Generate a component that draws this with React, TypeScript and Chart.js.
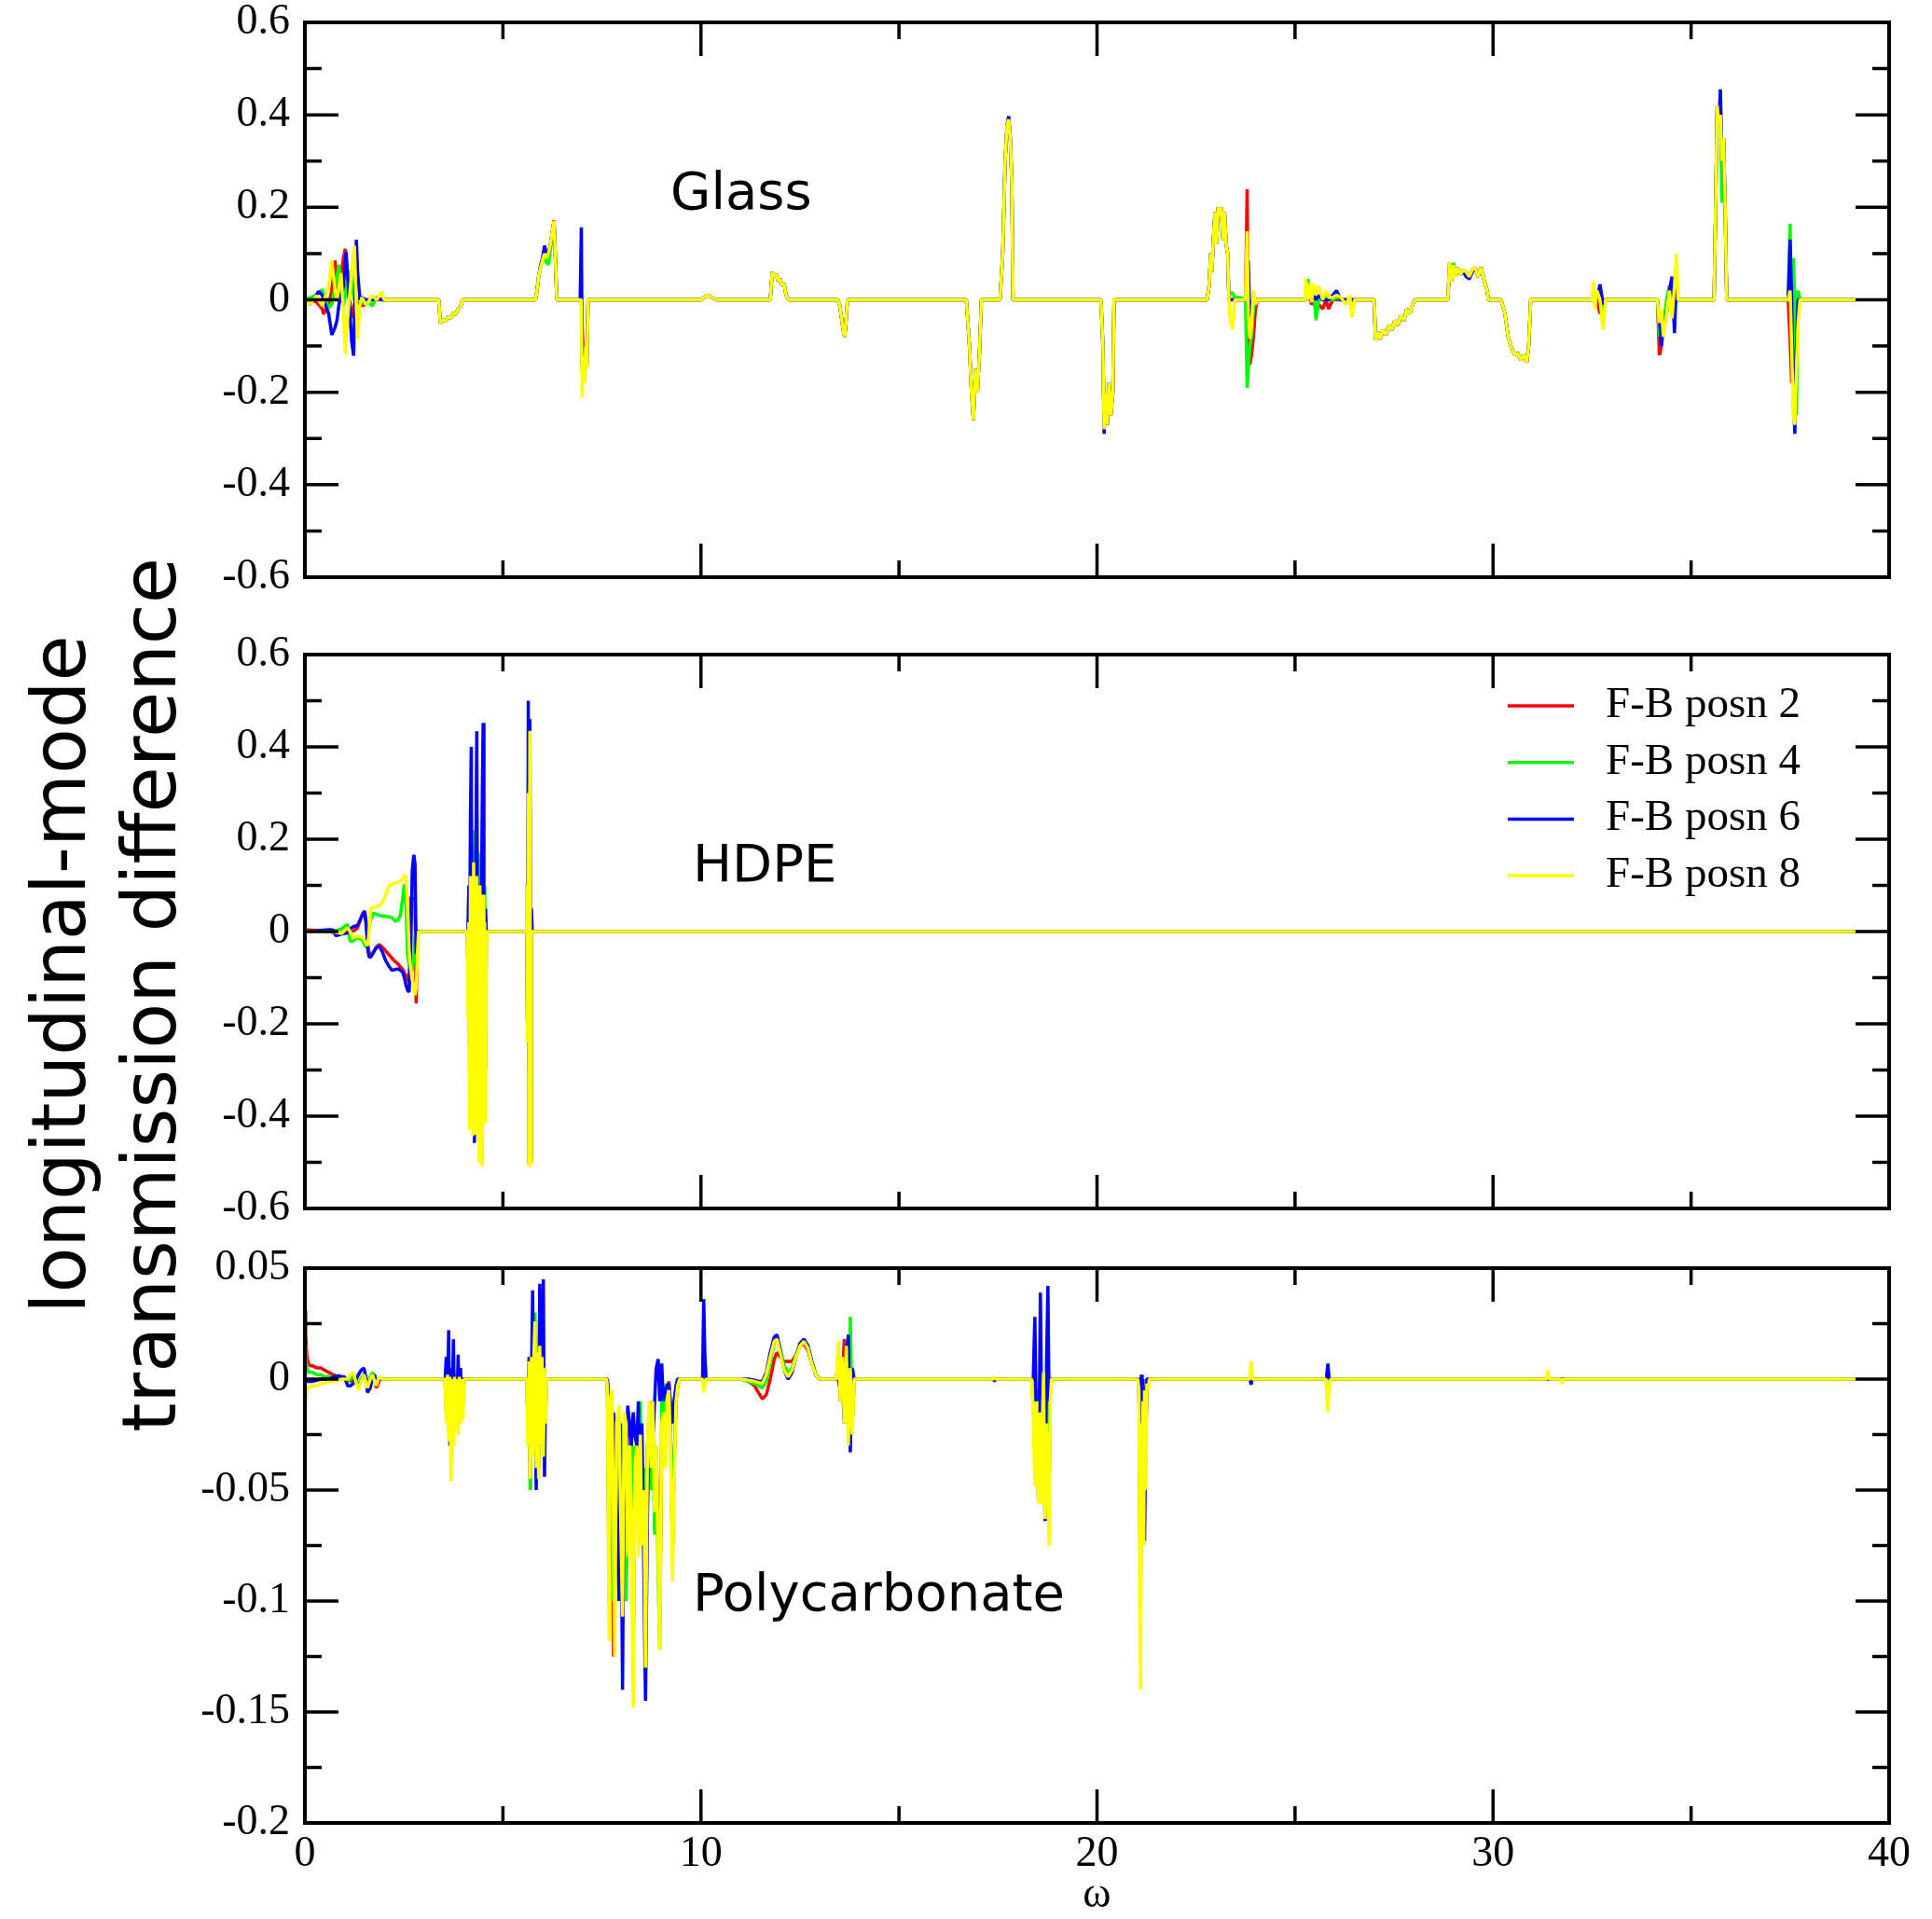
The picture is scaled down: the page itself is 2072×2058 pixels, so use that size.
import { useEffect, useRef } from "react";
import { Chart, registerables } from "chart.js";

Chart.register(...registerables);

const W = 2072;
const H = 2058;
const PLOT_LEFT = 327;
const PLOT_RIGHT = 2026;

const seriesNames = ["F-B posn 2", "F-B posn 4", "F-B posn 6", "F-B posn 8"];
const seriesColors = ["#ff0000", "#00ff00", "#0000ff", "#ffff00"];

// ---------------- Glass ----------------
const glassOmega = [
  0, 0.13, 0.29, 0.34, 0.44, 0.47, 0.6, 0.68, 0.76, 0.81, 0.86, 0.91, 0.97, 1.02, 1.04, 1.12, 1.16, 1.18, 1.23, 1.25, 1.3, 1.33, 1.39, 1.44, 1.54, 1.6, 1.7, 1.81, 1.94, 2.0,
  3.38, 3.42, 3.5, 3.55, 3.62, 3.68, 3.75, 3.8, 3.87, 3.93, 3.98,
  5.82, 5.86, 5.9, 5.95, 6.0, 6.05, 6.1, 6.15, 6.2, 6.25, 6.29, 6.32, 6.36,
  6.95, 6.98, 7.0, 7.03, 7.06, 7.09, 7.12, 7.15,
  10.0, 10.08, 10.17, 10.3, 10.4,
  11.75, 11.8, 11.85, 11.9, 11.95, 12.0, 12.05, 12.1, 12.15, 12.2,
  13.45, 13.5, 13.55, 13.6, 13.63, 13.66, 13.7,
  16.7, 16.78, 16.83, 16.88, 16.93, 16.98, 17.03, 17.08,
  17.55, 17.62, 17.68, 17.73, 17.77, 17.81, 17.85, 17.88,
  20.1, 20.15, 20.18, 20.22, 20.26, 20.3, 20.35, 20.4, 20.43,
  22.78, 22.83, 22.87, 22.9, 22.95, 22.98, 23.02, 23.06, 23.1, 23.14, 23.18, 23.22, 23.26, 23.3, 23.33, 23.36, 23.42, 23.48, 23.6, 23.75, 23.79, 23.82, 23.86, 23.9, 23.95, 24.0, 24.05,
  25.25, 25.27, 25.32, 25.36, 25.42, 25.47, 25.53, 25.6, 25.7, 25.78, 25.85, 25.95, 26.05, 26.15, 26.3, 26.38, 26.44, 26.5,
  27.0, 27.03, 27.1, 27.15, 27.22, 27.3, 27.38, 27.45, 27.52, 27.6, 27.67, 27.75, 27.82, 27.9, 27.97, 28.03,
  28.83, 28.86, 28.9, 28.95, 29.0, 29.05, 29.1, 29.18, 29.25, 29.32, 29.4, 29.48, 29.55, 29.62, 29.7, 29.78, 29.85, 29.88,
  30.2, 30.3, 30.38, 30.45, 30.55, 30.62, 30.7, 30.78, 30.85, 30.9, 30.95,
  32.5, 32.53, 32.57, 32.62, 32.7, 32.78, 32.84,
  34.15, 34.2, 34.25, 34.3, 34.38, 34.45, 34.52, 34.58, 34.63, 34.67,
  35.58, 35.62, 35.66, 35.7, 35.74, 35.78, 35.82, 35.86, 35.9,
  37.45, 37.5, 37.54, 37.58, 37.62, 37.66, 37.7, 37.75, 37.8,
  39.15,
];
const glassPosn2 = [
  0, 0, -0.005, -0.01, -0.02, -0.031, -0.01, 0.02, 0.085, 0.04, 0, 0.05, 0.09, 0.11, 0.08, 0, -0.02, -0.04, -0.02, -0.01, 0, -0.005, -0.01, -0.013, -0.01, 0, 0, 0, 0, 0,
  0, -0.05, -0.042, -0.047, -0.036, -0.04, -0.028, -0.032, -0.02, -0.015, 0,
  0, 0.02, 0.05, 0.07, 0.085, 0.1, 0.09, 0.1, 0.12, 0.15, 0.172, 0.1, 0,
  0, 0, -0.05, -0.12, -0.17, -0.1, -0.14, 0,
  0, 0.005, 0.01, 0.004, 0,
  0, 0.06, 0.05, 0.055, 0.04, 0.045, 0.03, 0.035, 0.01, 0,
  0, -0.01, -0.04, -0.07, -0.08, -0.05, 0,
  0, -0.1, -0.2, -0.26, -0.15, -0.2, -0.12, 0,
  0, 0.1, 0.3, 0.38, 0.39, 0.35, 0.25, 0,
  0, -0.1, -0.28, -0.2, -0.27, -0.18, -0.25, -0.2, 0,
  0, 0.03, 0.1, 0.06, 0.15, 0.19, 0.12, 0.2, 0.18, 0.2, 0.13, 0.19, 0.12, 0.1, 0, 0, 0, 0, 0, 0, 0.239, -0.05, -0.14, -0.12, -0.08, -0.02, 0,
  0, 0.01, 0, 0.01, -0.01, -0.005, -0.02, -0.01, -0.02, 0, -0.02, 0, 0, 0, 0, 0, 0, 0,
  0, -0.087, -0.07, -0.085, -0.065, -0.075, -0.055, -0.065, -0.045, -0.055, -0.035, -0.045, -0.02, -0.03, -0.01, 0,
  0, 0, 0.08, 0.04, 0.075, 0.05, 0.07, 0.055, 0.065, 0.06, 0.05, 0.065, 0.07, 0.05, 0.07, 0.04, 0.02, 0,
  0, -0.03, -0.08, -0.1, -0.12, -0.115, -0.13, -0.12, -0.135, -0.1, 0,
  0, 0.01, -0.01, 0, -0.03, -0.01, 0,
  0, -0.12, -0.1, -0.04, -0.02, 0, 0, 0, 0, 0,
  0, 0.2, 0.42, 0.38, 0.4, 0.3, 0.35, 0.2, 0,
  0, -0.085, -0.18, -0.1, -0.25, -0.05, 0, 0, 0,
  0,
];
const glassPosn4 = [
  0, 0.005, 0.01, 0.015, 0.022, 0.015, -0.018, -0.01, 0.03, 0.05, 0.076, 0.02, -0.015, 0.01, 0.03, 0.05, 0.063, 0.04, 0.01, 0, -0.005, 0, 0, -0.005, -0.01, -0.005, -0.013, 0.005, 0, 0,
  0, -0.05, -0.042, -0.047, -0.036, -0.04, -0.028, -0.032, -0.02, -0.015, 0,
  0, 0.02, 0.05, 0.07, 0.085, 0.095, 0.08, 0.076, 0.11, 0.14, 0.165, 0.1, 0,
  0, 0, -0.15, -0.12, -0.17, -0.1, -0.14, 0,
  0, 0.005, 0.01, 0.004, 0,
  0, 0.06, 0.05, 0.055, 0.04, 0.045, 0.03, 0.035, 0.01, 0,
  0, -0.01, -0.04, -0.07, -0.08, -0.05, 0,
  0, -0.1, -0.2, -0.26, -0.15, -0.2, -0.12, 0,
  0, 0.1, 0.3, 0.38, 0.39, 0.35, 0.25, 0,
  0, -0.1, -0.27, -0.2, -0.27, -0.18, -0.25, -0.2, 0,
  0, 0.03, 0.1, 0.06, 0.15, 0.19, 0.12, 0.2, 0.18, 0.2, 0.13, 0.19, 0.12, 0.1, 0, 0.015, 0.015, 0.005, 0.005, 0, -0.19, -0.15, -0.1, -0.08, -0.02, 0, 0,
  0, 0.01, 0.045, 0.02, 0, 0.02, -0.044, 0, 0, 0.01, 0, 0, 0.005, 0, 0, 0, -0.01, 0,
  0, -0.087, -0.07, -0.085, -0.065, -0.075, -0.055, -0.065, -0.045, -0.055, -0.035, -0.045, -0.02, -0.03, -0.01, 0,
  0, 0, 0.08, 0.04, 0.08, 0.05, 0.07, 0.055, 0.065, 0.06, 0.05, 0.065, 0.07, 0.05, 0.07, 0.04, 0.02, 0,
  0, -0.03, -0.08, -0.1, -0.12, -0.115, -0.13, -0.12, -0.135, -0.1, 0,
  0, 0.02, -0.01, 0.01, 0, -0.02, 0,
  0, -0.08, -0.05, -0.06, 0, 0.03, 0.01, 0, 0.02, 0,
  0, 0.2, 0.42, 0.38, 0.4, 0.21, 0.35, 0.2, 0,
  0, 0.165, -0.05, 0.09, 0, -0.25, 0.02, 0, 0,
  0,
];
const glassPosn6 = [
  0, -0.01, 0.01, 0.018, 0.01, 0, -0.03, -0.076, -0.06, -0.045, -0.01, 0.01, 0.027, 0.08, 0.103, 0, -0.06, -0.09, -0.121, -0.05, 0.13, 0.06, 0, 0.005, 0, 0, 0, 0.005, 0, 0,
  0, -0.05, -0.042, -0.047, -0.036, -0.04, -0.028, -0.032, -0.02, -0.015, 0,
  0, 0.02, 0.05, 0.075, 0.09, 0.117, 0.1, 0.1, 0.12, 0.15, 0.17, 0.1, 0,
  0, 0.157, -0.144, -0.12, -0.16, -0.1, -0.14, 0,
  0, 0.005, 0.01, 0.004, 0,
  0, 0.06, 0.05, 0.055, 0.04, 0.045, 0.03, 0.035, 0.01, 0,
  0, -0.01, -0.04, -0.07, -0.08, -0.05, 0,
  0, -0.1, -0.2, -0.26, -0.15, -0.2, -0.12, 0,
  0, 0.1, 0.3, 0.38, 0.397, 0.35, 0.25, 0,
  0, -0.1, -0.29, -0.2, -0.27, -0.18, -0.25, -0.2, 0,
  0, 0.03, 0.1, 0.06, 0.15, 0.19, 0.12, 0.2, 0.18, 0.2, 0.13, 0.19, 0.12, 0.1, 0, 0, 0, 0, 0, 0, 0, 0.085, -0.05, -0.02, 0.01, 0, 0,
  0, 0.01, 0.02, 0.01, 0, 0.01, 0, 0.01, 0, 0, 0, 0.01, 0.02, 0, 0, 0, 0, 0,
  0, -0.087, -0.07, -0.085, -0.065, -0.075, -0.055, -0.065, -0.045, -0.055, -0.035, -0.045, -0.02, -0.03, -0.01, 0,
  0, 0, 0.07, 0.04, 0.075, 0.05, 0.07, 0.055, 0.06, 0.05, 0.045, 0.06, 0.07, 0.05, 0.07, 0.04, 0.02, 0,
  0, -0.03, -0.08, -0.1, -0.12, -0.115, -0.13, -0.12, -0.135, -0.1, 0,
  0, 0.01, 0, 0, 0.033, -0.01, 0,
  0, -0.04, -0.1, -0.06, -0.03, 0.02, 0.05, -0.072, 0.04, 0,
  0, 0.2, 0.42, 0.38, 0.455, 0.3, 0.35, 0.2, 0,
  0, 0.13, 0, -0.2, -0.29, -0.1, 0, 0, 0,
  0,
];
const glassPosn8 = [
  0, -0.01, 0.009, 0, -0.013, -0.005, 0.03, 0.085, 0.02, 0, 0.03, 0.058, -0.02, -0.117, -0.08, 0, 0.04, 0.07, 0.1, 0.117, -0.02, -0.085, -0.01, 0.005, -0.01, -0.005, 0.009, 0, 0.018, 0,
  0, -0.05, -0.042, -0.047, -0.036, -0.04, -0.028, -0.032, -0.02, -0.015, 0,
  0, 0.02, 0.05, 0.07, 0.085, 0.1, 0.09, 0.1, 0.12, 0.15, 0.171, 0.1, 0,
  0, 0, -0.21, -0.12, -0.18, -0.1, -0.15, 0,
  0, 0.005, 0.01, 0.004, 0,
  0, 0.06, 0.05, 0.055, 0.04, 0.045, 0.03, 0.035, 0.01, 0,
  0, -0.01, -0.04, -0.07, -0.08, -0.05, 0,
  0, -0.1, -0.2, -0.26, -0.15, -0.2, -0.12, 0,
  0, 0.1, 0.3, 0.38, 0.39, 0.35, 0.25, 0,
  0, -0.1, -0.28, -0.2, -0.27, -0.18, -0.25, -0.2, 0,
  0, 0.03, 0.1, 0.06, 0.15, 0.19, 0.12, 0.2, 0.18, 0.2, 0.13, 0.19, 0.12, 0.1, 0, -0.04, -0.064, 0, 0, 0, 0.148, -0.03, -0.084, -0.06, 0.02, -0.01, 0,
  0, 0.045, 0, 0.035, -0.005, 0.035, 0.01, 0.03, 0, 0.02, 0.005, 0.005, 0.01, 0.005, -0.01, 0.01, -0.037, 0,
  0, -0.087, -0.07, -0.085, -0.065, -0.075, -0.055, -0.065, -0.045, -0.055, -0.035, -0.045, -0.02, -0.03, -0.01, 0,
  0, 0, 0.08, 0.04, 0.075, 0.05, 0.07, 0.055, 0.065, 0.06, 0.05, 0.065, 0.07, 0.05, 0.07, 0.04, 0.02, 0,
  0, -0.03, -0.08, -0.1, -0.12, -0.115, -0.13, -0.12, -0.135, -0.1, 0,
  0, 0.04, -0.02, 0.02, 0, -0.065, 0,
  0, -0.05, -0.02, -0.08, -0.03, 0.02, -0.04, 0.03, 0.1, 0,
  0, 0.2, 0.42, 0.38, 0.4, 0.3, 0.35, 0.2, 0,
  0, 0.02, -0.1, -0.25, -0.27, -0.15, -0.05, 0, 0,
  0,
];

// ---------------- HDPE ----------------
const hdpeOmega = [
  0, 0.63, 0.72, 0.78, 0.86, 0.94, 1.02, 1.08, 1.14, 1.19, 1.24, 1.33, 1.45, 1.51, 1.55, 1.59, 1.62, 1.66, 1.73, 1.81,
  1.88, 1.96, 2.04, 2.12, 2.2, 2.29, 2.35, 2.41, 2.47, 2.51, 2.55, 2.59, 2.63, 2.67, 2.71, 2.75, 2.78, 2.81, 2.84, 2.87, 2.95,
  4.1, 4.12, 4.14, 4.16, 4.18, 4.2, 4.22, 4.24, 4.26, 4.28, 4.3, 4.32, 4.34, 4.36, 4.38, 4.4, 4.42, 4.44, 4.46, 4.48, 4.5, 4.52, 4.54, 4.56, 4.58, 4.6,
  5.58, 5.6, 5.62, 5.64, 5.66, 5.68, 5.7, 5.72, 5.74,
  39.15,
];
const hdpePosn2 = [
  0.004, 0, -0.002, -0.004, -0.004, -0.002, 0, 0.002, 0, 0, 0.002, 0.008, 0.038, 0.044, 0.02, -0.03, -0.045, -0.055, -0.045, -0.033,
  -0.028, -0.035, -0.042, -0.05, -0.058, -0.066, -0.07, -0.077, -0.082, -0.09, -0.095, -0.105, -0.109, 0.074, 0.074, 0.072, 0.07, -0.156, -0.02, 0, 0,
  0, -0.1, 0.05, -0.3, 0.08, -0.35, 0.1, -0.4, 0.1, -0.25, 0.08, -0.4, 0.1, -0.3, 0.05, -0.45, 0.08, -0.3, 0.03, -0.45, 0.05, -0.25, 0.02, -0.3, -0.03, 0,
  0, 0.05, -0.2, 0.2, -0.505, 0.38, -0.5, 0, 0,
  0,
];
const hdpePosn4 = [
  0, 0, 0, 0.002, 0.004, 0.007, 0.012, 0.015, -0.021, -0.021, -0.02, -0.012, -0.018, -0.03, -0.034, -0.005, 0.01, 0.025, 0.04, 0.037,
  0.035, 0.034, 0.033, 0.032, 0.03, 0.022, 0.025, 0.035, 0.074, 0.103, 0.06, -0.048, -0.07, -0.1, -0.08, -0.063, -0.01, 0, 0, 0, 0,
  0, -0.05, 0.05, -0.2, 0.1, -0.2, 0.05, -0.3, 0.15, 0.22, -0.3, 0.1, -0.35, 0.1, 0.17, -0.4, 0.1, -0.3, 0.05, -0.4, 0.1, -0.2, 0.1, -0.1, 0, 0,
  0, 0.08, -0.2, 0.25, -0.5, 0.4, -0.48, 0, 0,
  0,
];
const hdpePosn6 = [
  0, 0.004, 0.003, -0.009, -0.007, -0.005, -0.004, -0.003, 0.005, 0.009, 0.011, 0.013, 0.035, 0.044, 0.01, -0.04, -0.055, -0.055, -0.045, -0.034,
  -0.032, -0.045, -0.063, -0.075, -0.084, -0.082, -0.081, -0.084, -0.088, -0.1, -0.115, -0.127, -0.131, -0.05, 0.132, 0.166, 0.146, -0.048, 0, 0, 0,
  0, 0.02, 0.1, -0.05, 0.25, 0.4, -0.1, 0.05, -0.2, -0.458, 0.05, 0.2, 0.434, -0.1, 0.1, -0.2, 0.05, -0.5, 0.1, 0.3, 0.452, 0.1, -0.05, 0.05, 0, 0,
  0, 0.1, -0.2, 0.5, -0.3, 0.46, -0.49, 0.05, 0,
  0,
];
const hdpePosn8 = [
  0, 0, 0, -0.002, -0.003, -0.004, 0.004, 0.008, 0, -0.01, -0.012, -0.01, -0.012, -0.02, -0.027, -0.03, 0, 0.051, 0.051, 0.054,
  0.056, 0.063, 0.08, 0.098, 0.103, 0.105, 0.106, 0.11, 0.114, 0.12, 0.121, 0.06, -0.04, -0.08, -0.105, -0.12, -0.138, -0.12, -0.05, 0, 0,
  0, -0.19, 0.02, -0.43, 0.12, -0.3, 0.08, -0.44, 0.15, -0.2, 0.1, -0.44, 0.12, -0.35, 0.06, -0.5, 0.1, -0.3, 0.05, -0.51, 0.08, -0.3, 0.02, -0.415, -0.05, 0,
  0, 0.1, -0.24, 0.3, -0.51, 0.435, -0.5, 0, 0,
  0,
];

// ---------------- Polycarbonate ----------------
const polyOmega = [
  0, 0.02, 0.05, 0.09, 0.14, 0.2, 0.3, 0.4, 0.5, 0.6, 0.72, 0.85, 0.95,
  1.0, 1.08, 1.15, 1.22, 1.3, 1.35, 1.42, 1.49, 1.55, 1.58, 1.65, 1.71, 1.76, 1.8, 1.85, 1.89, 1.95,
  3.54, 3.57, 3.6, 3.63, 3.66, 3.69, 3.72, 3.75, 3.78, 3.81, 3.84, 3.87, 3.9, 3.93, 3.96, 3.99, 4.02,
  5.6, 5.63, 5.66, 5.69, 5.72, 5.75, 5.78, 5.81, 5.84, 5.87, 5.9, 5.93, 5.96, 5.99, 6.02, 6.05, 6.08, 6.1,
  7.62, 7.64, 7.68, 7.71, 7.75, 7.79, 7.82, 7.87, 7.93, 7.97, 8.02, 8.06, 8.11, 8.15, 8.2, 8.24, 8.29, 8.33, 8.38, 8.42,
  8.47, 8.51, 8.56, 8.6, 8.65, 8.69, 8.74, 8.78, 8.83, 8.87, 8.92, 8.96, 9.01, 9.05, 9.1, 9.14, 9.19, 9.23, 9.28, 9.32, 9.37, 9.41, 9.46, 9.55,
  10.04, 10.07, 10.1, 10.13,
  11.0, 11.2, 11.35, 11.45, 11.55, 11.65, 11.75, 11.85, 11.92, 12.0, 12.1, 12.2, 12.3, 12.4, 12.5, 12.6, 12.7, 12.8, 12.9, 13.0, 13.2, 13.4,
  13.42, 13.47, 13.52, 13.57, 13.62, 13.67, 13.72, 13.77, 13.82, 13.87, 13.92,
  17.38, 17.41, 17.44,
  18.35, 18.39, 18.43, 18.46, 18.48, 18.52, 18.55, 18.57, 18.6, 18.62, 18.65, 18.69, 18.72, 18.76, 18.79, 18.82, 18.85,
  21.03, 21.06, 21.08, 21.1, 21.12, 21.14, 21.16, 21.18, 21.2, 21.23, 21.26, 21.29, 21.32,
  23.86, 23.89, 23.92,
  25.78, 25.8, 25.83, 25.86, 25.9,
  31.35, 31.38, 31.41, 31.72, 31.75, 31.78,
  39.15,
];
const polyPosn2 = [
  0.031, 0.02, 0.01, 0.007, 0.006, 0.006, 0.005, 0.005, 0.004, 0.003, 0.002, 0.001, 0,
  0, 0, -0.001, 0, -0.001, -0.003, 0, 0.002, 0, -0.002, 0, 0.002, 0, -0.004, -0.002, 0, 0,
  0, -0.015, 0.002, -0.02, 0.001, -0.035, 0.003, -0.02, 0.002, -0.018, 0.001, -0.015, 0.002, -0.012, 0, -0.01, 0,
  0, -0.02, 0.005, -0.05, 0.008, -0.03, 0.01, 0.02, -0.04, 0.01, -0.04, 0.01, -0.03, 0.024, -0.03, 0.005, -0.015, 0,
  0, -0.005, -0.1, -0.01, -0.01, -0.125, -0.03, -0.025, -0.02, -0.09, -0.06, -0.025, -0.09, -0.03, -0.05, -0.02, -0.12, -0.04, -0.04, -0.02,
  -0.03, -0.07, -0.04, -0.11, -0.03, -0.02, -0.04, -0.02, -0.05, -0.03, -0.07, -0.11, -0.03, -0.015, -0.03, -0.01, -0.001, -0.02, -0.08, -0.04, -0.01, -0.003, 0, 0,
  0, -0.003, 0, 0,
  0, -0.001, -0.003, -0.006, -0.009, -0.007, 0, 0.009, 0.012, 0.01, 0.008, 0.008, 0.008, 0.011, 0.015, 0.016, 0.013, 0.007, 0.002, 0, 0, 0,
  0, 0.01, -0.01, 0, 0.018, -0.01, -0.015, 0.01, -0.02, 0, 0,
  0, 0, 0,
  0, -0.01, -0.03, -0.005, -0.02, -0.04, -0.01, -0.03, -0.04, -0.01, 0, -0.05, -0.01, -0.02, -0.05, -0.005, 0,
  0, 0, -0.06, -0.1, -0.01, -0.05, -0.005, -0.05, -0.003, -0.03, 0, 0, 0,
  0, 0, 0,
  0, 0, -0.003, 0, 0,
  0, 0, 0, 0, 0, 0,
  0,
];
const polyPosn4 = [
  0.015, 0.01, 0.005, 0.003, 0.003, 0.003, 0.002, 0.002, 0.001, 0.001, 0.001, 0, 0,
  0, -0.001, 0, 0.002, -0.002, -0.003, 0, 0.002, 0, -0.003, 0.001, 0.003, 0.001, -0.002, 0, 0, 0,
  0, -0.01, 0.003, -0.02, 0.002, -0.03, 0.004, -0.02, 0.003, -0.015, 0.002, -0.02, 0.003, -0.015, 0, -0.01, 0,
  0, -0.02, 0.005, -0.05, 0.01, -0.02, 0.01, 0.03, -0.03, 0.01, -0.04, 0.02, -0.03, 0.01, -0.02, 0.005, -0.01, 0,
  0, -0.005, -0.08, -0.01, -0.015, -0.1, -0.02, -0.03, -0.017, -0.08, -0.05, -0.02, -0.1, -0.03, -0.07, -0.02, -0.13, -0.03, -0.05, -0.015,
  -0.01, -0.06, -0.04, -0.12, -0.03, -0.015, -0.05, -0.02, -0.07, -0.03, -0.09, -0.122, -0.01, -0.02, -0.002, -0.01, -0.005, -0.02, -0.07, -0.04, -0.01, -0.003, 0, 0,
  0, -0.003, 0, 0,
  0, -0.001, -0.002, -0.003, -0.004, -0.001, 0.008, 0.016, 0.019, 0.014, 0.006, 0.003, 0.005, 0.011, 0.016, 0.018, 0.015, 0.008, 0.002, 0, 0, 0,
  0, 0.005, -0.005, 0, -0.015, 0.01, -0.02, 0.028, -0.02, 0, 0,
  0, 0, 0,
  0, -0.01, -0.03, -0.005, -0.02, -0.04, -0.01, -0.03, -0.04, -0.01, 0, -0.05, -0.01, -0.02, -0.05, -0.005, 0,
  0, 0, -0.06, -0.1, -0.01, -0.05, -0.005, -0.05, -0.003, -0.03, 0, 0, 0,
  0, 0, 0,
  0, 0, -0.003, 0, 0,
  0, 0, 0, 0, 0, 0,
  0,
];
const polyPosn6 = [
  -0.001, -0.001, -0.001, -0.001, -0.001, -0.001, -0.0005, 0, 0, 0, 0.001, 0.0015, 0.001,
  0.001, -0.003, -0.003, -0.002, 0, 0.002, 0.004, 0.005, 0, -0.006, -0.004, 0.001, 0.002, -0.002, 0, 0, 0,
  0, 0.01, -0.01, 0.022, -0.03, 0.005, -0.01, 0.018, -0.02, 0, -0.01, 0.011, -0.02, 0.005, -0.01, 0, 0,
  0, -0.01, 0.01, -0.02, 0, 0.04, -0.01, 0, -0.05, 0, -0.02, 0.043, -0.03, 0, 0.045, -0.044, 0, 0,
  0, 0, -0.01, -0.015, -0.02, -0.015, -0.02, -0.06, -0.1, -0.02, -0.14, -0.03, -0.06, -0.012, -0.02, -0.03, -0.015, -0.025, -0.03, -0.01,
  -0.07, -0.02, -0.09, -0.145, -0.06, -0.02, -0.01, -0.03, -0.01, 0.005, 0.009, -0.01, 0.007, -0.01, -0.005, -0.003, -0.002, -0.01, -0.02, -0.01, -0.003, 0, 0, 0,
  0, 0.036, 0.01, 0,
  0, 0, -0.0005, -0.001, -0.001, 0.003, 0.012, 0.019, 0.02, 0.013, 0.004, 0, 0.003, 0.01, 0.016, 0.018, 0.015, 0.008, 0.002, 0, 0, 0,
  0, 0, -0.005, 0, -0.02, 0.01, 0.02, -0.033, 0.005, 0, 0,
  0, -0.001, 0,
  0, 0, 0.028, -0.01, -0.02, -0.054, 0, 0.039, -0.01, -0.02, -0.03, -0.064, 0, 0.042, -0.01, 0, 0,
  0, 0, -0.05, -0.08, 0.002, -0.06, 0, -0.02, -0.073, -0.03, 0, 0, 0,
  0, -0.0025, 0,
  0, 0.002, 0.007, 0, 0,
  0, 0, 0, 0, 0, 0,
  0,
];
const polyPosn8 = [
  -0.013, -0.009, -0.005, -0.004, -0.003, -0.003, -0.003, -0.002, -0.002, -0.001, -0.001, -0.0005, 0,
  0, 0, 0.002, 0.003, -0.002, -0.005, -0.001, 0.002, -0.002, -0.004, 0, 0.002, -0.001, -0.003, 0, 0.001, 0,
  0, -0.02, 0.002, -0.028, 0.001, -0.046, 0, -0.03, 0.001, -0.022, 0, -0.025, 0.001, -0.02, 0, -0.018, 0,
  0, -0.03, 0.008, -0.045, 0.01, -0.035, 0.01, 0.026, -0.04, 0.012, -0.045, 0.015, -0.03, 0.01, -0.035, 0.005, -0.02, 0,
  0, -0.005, -0.118, -0.01, -0.005, -0.06, -0.125, -0.02, -0.012, -0.06, -0.107, -0.015, -0.02, -0.08, -0.03, -0.06, -0.148, -0.04, -0.03, -0.08,
  -0.025, -0.075, -0.05, -0.13, -0.03, -0.01, -0.04, -0.01, -0.06, -0.03, -0.08, -0.122, -0.02, -0.015, -0.04, -0.01, -0.005, -0.03, -0.091, -0.05, -0.01, -0.003, 0, 0,
  0, -0.006, -0.003, 0,
  0, -0.0005, -0.001, -0.0015, -0.002, 0.002, 0.01, 0.017, 0.018, 0.012, 0.004, 0.001, 0.004, 0.01, 0.015, 0.017, 0.014, 0.007, 0.002, 0, 0, 0,
  0, 0.017, -0.01, 0.01, -0.02, 0.015, -0.03, 0.005, -0.025, 0, 0,
  0, 0.001, 0,
  0, -0.017, -0.048, -0.01, -0.035, -0.056, -0.015, -0.04, -0.056, -0.02, 0.003, -0.063, -0.02, -0.035, -0.075, -0.01, 0,
  0, -0.005, -0.098, -0.14, -0.02, -0.075, -0.01, -0.075, -0.005, -0.05, -0.002, -0.005, 0,
  0, 0.008, 0,
  0, -0.005, -0.015, -0.005, 0,
  0, 0.004, 0, 0, -0.002, 0,
  0,
];

// ---------------- helpers ----------------
function makeDatasets(xs: number[], ys: number[][]) {
  return ys.map((arr, i) => {
    const n = Math.min(xs.length, arr.length);
    const pts = [];
    for (let j = 0; j < n; j++) pts.push({ x: xs[j], y: arr[j] });
    return {
      label: seriesNames[i],
      data: pts,
      borderColor: seriesColors[i],
      backgroundColor: seriesColors[i],
      borderWidth: 3.5,
      pointRadius: 0,
      tension: 0,
      fill: false,
      order: 4 - i,
      borderJoinStyle: "bevel" as const,
    };
  });
}

function fmt(v: number) {
  return String(parseFloat(Number(v).toFixed(4)));
}
function isMajor(v: number, step: number) {
  const r = v / step;
  return Math.abs(r - Math.round(r)) < 1e-6;
}

const framePlugin = {
  id: "frame",
  afterDraw(chart: any, _args: any, opts: any) {
    const { ctx } = chart;
    const { left, right, top, bottom } = chart.chartArea;
    const xs = chart.scales.x;
    const ys = chart.scales.y;
    ctx.save();
    ctx.strokeStyle = "#000";
    ctx.lineWidth = 3.5;
    ctx.beginPath();
    xs.ticks.forEach((t: any) => {
      const px = xs.getPixelForValue(t.value);
      const len = isMajor(t.value, 10) ? 36 : 18;
      ctx.moveTo(px, bottom);
      ctx.lineTo(px, bottom - len);
      ctx.moveTo(px, top);
      ctx.lineTo(px, top + len);
    });
    ys.ticks.forEach((t: any) => {
      const py = ys.getPixelForValue(t.value);
      const len = isMajor(t.value, opts.majorStep) ? 36 : 18;
      ctx.moveTo(left, py);
      ctx.lineTo(left + len, py);
      ctx.moveTo(right, py);
      ctx.lineTo(right - len, py);
    });
    ctx.stroke();
    ctx.lineWidth = 4;
    ctx.strokeRect(left, top, right - left, bottom - top);
    ctx.restore();
  },
};

const textPlugin = {
  id: "texts",
  afterDraw(chart: any, _args: any, opts: any) {
    const { ctx } = chart;
    ctx.save();
    ctx.fillStyle = "#000";
    (opts.labels || []).forEach((l: any) => {
      ctx.font = l.font;
      ctx.textAlign = l.align || "left";
      ctx.textBaseline = "alphabetic";
      if (l.rotate) {
        ctx.save();
        ctx.translate(l.x, l.y);
        ctx.rotate(-Math.PI / 2);
        ctx.fillText(l.text, 0, 0);
        ctx.restore();
      } else {
        ctx.fillText(l.text, l.x, l.y);
      }
    });
    if (opts.legend) {
      const lg = opts.legend;
      seriesNames.forEach((name, i) => {
        const yLine = lg.y0 + i * lg.dy;
        ctx.strokeStyle = seriesColors[i];
        ctx.lineWidth = 3.5;
        ctx.beginPath();
        ctx.moveTo(lg.x0, yLine);
        ctx.lineTo(lg.x1, yLine);
        ctx.stroke();
        ctx.fillStyle = "#000";
        ctx.font = lg.font;
        ctx.textAlign = "left";
        ctx.textBaseline = "alphabetic";
        ctx.fillText(name, lg.tx, yLine + lg.baseOff);
      });
    }
    ctx.restore();
  },
};

const tickFont = { family: '"Liberation Serif", "Times New Roman", serif', size: 46 };

function buildConfig(p: {
  xs: number[];
  ys: number[][];
  yMin: number;
  yMax: number;
  yStep: number;
  yMajor: number;
  top: number;
  bottom: number;
  showX: boolean;
  labels: any[];
  legend?: any;
}) {
  return {
    type: "line" as const,
    data: { datasets: makeDatasets(p.xs, p.ys) },
    options: {
      animation: false as const,
      responsive: false,
      maintainAspectRatio: false,
      devicePixelRatio: 1,
      events: [],
      layout: {
        padding: {
          left: 0,
          right: W - PLOT_RIGHT,
          top: p.top,
          bottom: p.showX ? 0 : H - p.bottom,
        },
      },
      plugins: {
        legend: { display: false },
        title: { display: false },
        tooltip: { enabled: false },
        frame: { majorStep: p.yMajor },
        texts: { labels: p.labels, legend: p.legend },
      },
      scales: {
        x: {
          type: "linear" as const,
          min: 0,
          max: 40,
          ticks: {
            stepSize: 5,
            display: p.showX,
            autoSkip: false,
            maxRotation: 0,
            minRotation: 0,
            padding: 6,
            color: "#000",
            font: tickFont,
            callback: (v: any) => (isMajor(Number(v), 10) ? fmt(Number(v)) : ""),
          },
          grid: { display: false, drawTicks: false },
          border: { display: false },
          title: p.showX
            ? {
                display: true,
                text: "ω",
                color: "#000",
                font: { family: tickFont.family, size: 46, lineHeight: 1 },
                padding: { top: 0, bottom: 2 },
              }
            : { display: false },
          afterFit: (s: any) => {
            s.paddingLeft = 0;
            s.paddingRight = 0;
            s.height = p.showX ? H - p.bottom : 0;
          },
        },
        y: {
          type: "linear" as const,
          min: p.yMin,
          max: p.yMax,
          ticks: {
            stepSize: p.yStep,
            autoSkip: false,
            padding: 16,
            color: "#000",
            font: tickFont,
            callback: (v: any) => (isMajor(Number(v), p.yMajor) ? fmt(Number(v)) : ""),
          },
          grid: { display: false, drawTicks: false },
          border: { display: false },
          afterFit: (s: any) => {
            s.width = PLOT_LEFT;
            s.paddingTop = 0;
            s.paddingBottom = 0;
          },
        },
      },
    },
    plugins: [framePlugin, textPlugin],
  };
}

const sansFont = '"DejaVu Sans", "Noto Sans", sans-serif';

export default function App() {
  const c1 = useRef<HTMLCanvasElement>(null);
  const c2 = useRef<HTMLCanvasElement>(null);
  const c3 = useRef<HTMLCanvasElement>(null);

  useEffect(() => {
    document.body.style.margin = "0";
    const charts: Chart[] = [];
    if (c1.current && c2.current && c3.current) {
      charts.push(
        new Chart(
          c1.current,
          buildConfig({
            xs: glassOmega,
            ys: [glassPosn2, glassPosn4, glassPosn6, glassPosn8],
            yMin: -0.6,
            yMax: 0.6,
            yStep: 0.1,
            yMajor: 0.2,
            top: 24,
            bottom: 619,
            showX: false,
            labels: [{ text: "Glass", x: 719, y: 224, font: `56px ${sansFont}` }],
          }) as any
        )
      );
      charts.push(
        new Chart(
          c2.current,
          buildConfig({
            xs: hdpeOmega,
            ys: [hdpePosn2, hdpePosn4, hdpePosn6, hdpePosn8],
            yMin: -0.6,
            yMax: 0.6,
            yStep: 0.1,
            yMajor: 0.2,
            top: 702,
            bottom: 1296,
            showX: false,
            labels: [
              { text: "HDPE", x: 743, y: 945, font: `56px ${sansFont}` },
              { text: "longitudinal-mode", x: 91, y: 1045, font: `80px ${sansFont}`, align: "center", rotate: true },
              { text: "transmission difference", x: 188, y: 1067, font: `80px ${sansFont}`, align: "center", rotate: true },
            ],
            legend: {
              x0: 1617,
              x1: 1688,
              tx: 1722,
              y0: 757,
              dy: 60.7,
              baseOff: 12,
              font: `47px "Liberation Serif", "Times New Roman", serif`,
            },
          }) as any
        )
      );
      charts.push(
        new Chart(
          c3.current,
          buildConfig({
            xs: polyOmega,
            ys: [polyPosn2, polyPosn4, polyPosn6, polyPosn8],
            yMin: -0.2,
            yMax: 0.05,
            yStep: 0.025,
            yMajor: 0.05,
            top: 1360,
            bottom: 1955,
            showX: true,
            labels: [{ text: "Polycarbonate", x: 743, y: 1727, font: `56px ${sansFont}` }],
          }) as any
        )
      );
    }
    return () => charts.forEach((c) => c.destroy());
  }, []);

  const cs: React.CSSProperties = { position: "absolute", left: 0, top: 0, width: W, height: H };
  return (
    <div style={{ position: "absolute", left: 0, top: 0, width: W, height: H, background: "#fff", overflow: "hidden" }}>
      <canvas ref={c1} width={W} height={H} style={cs} />
      <canvas ref={c2} width={W} height={H} style={cs} />
      <canvas ref={c3} width={W} height={H} style={cs} />
    </div>
  );
}
